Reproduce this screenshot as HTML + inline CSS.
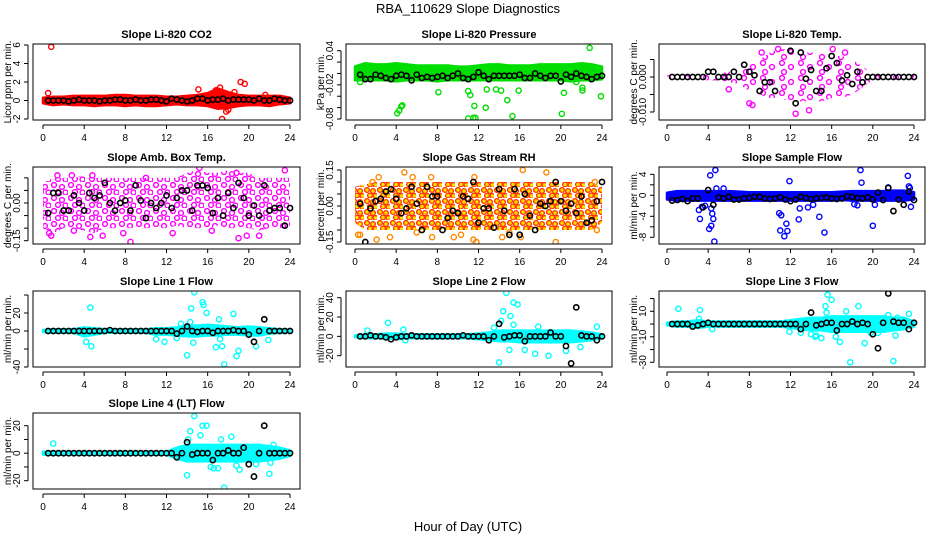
<!DOCTYPE html>
<html><head><meta charset="utf-8"><style>
html,body{margin:0;padding:0;background:#fff;}
svg{display:block;font-family:"Liberation Sans",sans-serif;}
</style></head><body>
<svg id="chart" width="936" height="540" viewBox="0 0 936 540">
<defs>
<pattern id="pat-mag" width="17" height="13" patternUnits="userSpaceOnUse">
<circle cx="3" cy="3" r="2.4" fill="none" stroke="#ff00ff" stroke-width="1.4"/>
<circle cx="11" cy="5" r="2.4" fill="none" stroke="#ff00ff" stroke-width="1.4"/>
<circle cx="7" cy="10" r="2.4" fill="none" stroke="#ff00ff" stroke-width="1.4"/>
<circle cx="14.5" cy="10.5" r="2.4" fill="none" stroke="#ff00ff" stroke-width="1.4"/>
</pattern>
<pattern id="pat-mag2" width="19" height="15" patternUnits="userSpaceOnUse">
<circle cx="3" cy="3" r="2.4" fill="none" stroke="#ff00ff" stroke-width="1.4"/>
<circle cx="12" cy="7" r="2.4" fill="none" stroke="#ff00ff" stroke-width="1.4"/>
<circle cx="5" cy="12" r="2.4" fill="none" stroke="#ff00ff" stroke-width="1.4"/>
</pattern>
<pattern id="pat-rh" width="13" height="11" patternUnits="userSpaceOnUse">
<circle cx="3" cy="3" r="2.4" fill="#ffdd00" stroke="#ff3300" stroke-width="1.3"/>
<circle cx="9" cy="4" r="2.4" fill="#ffdd00" stroke="#ff3300" stroke-width="1.3"/>
<circle cx="6" cy="8.5" r="2.4" fill="#ffdd00" stroke="#ff3300" stroke-width="1.3"/>
<circle cx="11.5" cy="9" r="2.4" fill="#ffdd00" stroke="#ff3300" stroke-width="1.3"/>
</pattern>
</defs>
<text x="468" y="13" text-anchor="middle" font-size="13">RBA_110629  Slope Diagnostics</text>
<text x="468" y="531" text-anchor="middle" font-size="13">Hour of Day (UTC)</text>
</svg>
<script>
const bandHours=[0,1,2,3,4,5,6,7,8,9,10,11,12,13,14,15,16,17,18,19,20,21,22,23,24];
const meanHours=[0.5,1,1.5,2,2.5,3,3.5,4,4.5,5,5.5,6,6.5,7,7.5,8,8.5,9,9.5,10,10.5,11,11.5,12,12.5,13,13.5,14,14.5,15,15.5,16,16.5,17,17.5,18,18.5,19,19.5,20,20.5,21,21.5,22,22.5,23,23.5,24];
const xTicks=[0,4,8,12,16,20,24];

const co2Lo=[-0.3,-0.5,-0.4,-0.5,-0.5,-0.6,-0.5,-0.5,-0.6,-0.5,-0.6,-0.6,-0.5,-0.4,-0.5,-0.5,-0.6,-0.9,-0.8,-0.6,-0.5,-0.5,-0.6,-0.4,-0.3];
const co2Hi=[0.3,0.4,0.4,0.5,0.5,0.5,0.5,0.6,0.6,0.5,0.5,0.5,0.4,0.4,0.5,0.6,0.8,1.3,0.9,0.6,0.5,0.5,0.5,0.5,0.3];
const co2Out=[[0.8,5.8],[0.5,0.8],[15.1,1.2],[19.2,2],[19.6,1.8],[17.4,-2],[17.8,-1.2],[18,-1],[21.6,0.6],[16.8,1.1],[17.2,1.4],[18.6,0.9]];
const co2Mean=[0,0,0,0,-0.1,0,0.1,0,0,0,-0.1,0,0,0.1,0.1,0,0,0.1,0,0,0.1,0.1,0,-0.1,0.2,0.1,0,-0.1,0,0.2,0.2,0,0.1,0.1,0.2,0,0.1,0.1,0.1,0.1,0,0.2,0,0,0.2,0.1,0,0];

const presLo=[-0.012,-0.012,-0.012,-0.012,-0.014,-0.012,-0.012,-0.012,-0.014,-0.012,-0.012,-0.012,-0.012,-0.012,-0.012,-0.012,-0.012,-0.012,-0.012,-0.012,-0.012,-0.014,-0.012,-0.012,-0.01];
const presHi=[0.012,0.018,0.016,0.016,0.018,0.016,0.014,0.014,0.014,0.014,0.012,0.012,0.014,0.016,0.016,0.014,0.014,0.014,0.016,0.016,0.016,0.016,0.018,0.016,0.012];
const presOut=[[4.1,-0.07],[4.3,-0.065],[4.5,-0.058],[4.6,-0.056],[8.1,-0.033],[11,-0.031],[11.2,-0.038],[11.6,-0.057],[11,-0.079],[11.5,-0.078],[11.7,-0.078],[12.7,-0.06],[12.8,-0.028],[13.7,-0.028],[14.2,-0.03],[14.8,-0.047],[15.3,-0.075],[15.9,-0.03],[20.1,-0.071],[20.3,-0.034],[22.1,-0.03],[22.1,-0.025],[23.9,-0.04],[22.8,0.045],[0.5,-0.015],[21.5,-0.015]];
const presMean=[-0.002,-0.01,-0.01,-0.002,-0.004,-0.008,-0.01,-0.004,-0.002,-0.004,-0.012,-0.002,-0.008,-0.006,-0.008,-0.006,-0.004,-0.008,-0.004,0.0,-0.008,-0.01,-0.006,0.002,-0.004,-0.01,-0.004,-0.004,-0.004,-0.004,-0.004,-0.002,-0.008,-0.008,0,-0.004,-0.008,-0.004,-0.004,-0.014,-0.002,-0.006,0,-0.004,-0.006,-0.01,-0.006,-0.004];

const tempLo=[-0.0005,-0.0005,-0.0005,-0.0005,-0.001,-0.001,-0.0015,-0.002,-0.004,-0.005,-0.006,-0.006,-0.007,-0.007,-0.007,-0.007,-0.006,-0.006,-0.005,-0.003,-0.0008,-0.0005,-0.0005,-0.0005,-0.0005];
const tempHi=[0.0005,0.0005,0.0005,0.0005,0.0008,0.001,0.0015,0.002,0.004,0.005,0.007,0.008,0.008,0.007,0.007,0.007,0.006,0.006,0.005,0.003,0.0008,0.0005,0.0005,0.0005,0.0005];
const tempOut=[[8.0,-0.0075],[8.3,-0.008],[12.5,-0.0105],[13.8,-0.0095],[15.6,-0.0135],[10.8,0.008],[9.2,0.007],[16.1,0.008],[17.3,0.007],[6.0,-0.0035]];
const tempMean=[0,0,0,0,0,0,0,0.0015,0.0015,0,0,0,0.0015,0,0.0035,0.0015,0.0005,-0.004,-0.0015,-0.0015,-0.004,-0.0135,-0.0135,0.0075,-0.0075,0.007,-0.0005,0.002,-0.004,-0.004,0.0025,0.006,0.004,-0.001,0.0005,-0.002,0.0015,-0.0015,0,0,0,0,0,0,0,0,0,0];

const ambLo=[-0.1,-0.12,-0.1,-0.1,-0.11,-0.12,-0.1,-0.1,-0.1,-0.1,-0.1,-0.1,-0.1,-0.09,-0.1,-0.1,-0.1,-0.09,-0.1,-0.1,-0.1,-0.11,-0.1,-0.1,-0.1];
const ambHi=[0.08,0.1,0.1,0.1,0.11,0.1,0.1,0.1,0.1,0.1,0.1,0.1,0.1,0.1,0.12,0.13,0.12,0.12,0.13,0.12,0.12,0.1,0.1,0.1,0.1];
const ambOut=[[0.6,-0.12],[0.8,-0.13],[3,-0.11],[4.6,-0.135],[5.8,-0.13],[7.8,-0.12],[8.5,-0.155],[15.2,0.14],[16.4,-0.11],[18.8,0.12],[19,-0.14],[19.8,-0.13],[20.4,0.16],[21,-0.13],[1.4,0.11],[2.8,0.11],[4.8,0.11],[10,0.1],[12.6,-0.12],[23.5,0.13]];
const ambMean=[-0.04,0.04,0.04,-0.03,-0.03,0.03,0.0,-0.03,0.04,0.02,0.03,0.08,0,-0.03,0.0,0.01,-0.03,0.07,0.01,-0.06,0.0,-0.02,0.0,0.03,-0.02,0.02,0.05,0.05,-0.03,0.07,0.07,0.06,-0.04,0.02,-0.05,0.04,-0.02,0.08,0.02,-0.05,-0.01,-0.05,0.07,-0.03,-0.02,-0.02,-0.09,-0.02];

const rhLo=[-0.07,-0.1,-0.1,-0.1,-0.1,-0.1,-0.1,-0.1,-0.1,-0.1,-0.1,-0.1,-0.1,-0.1,-0.1,-0.1,-0.1,-0.1,-0.1,-0.1,-0.1,-0.1,-0.1,-0.1,-0.07];
const rhHi=[0.08,0.09,0.1,0.1,0.1,0.1,0.1,0.1,0.1,0.1,0.1,0.1,0.1,0.1,0.1,0.1,0.1,0.1,0.1,0.1,0.1,0.1,0.1,0.1,0.08];
const rhOut=[[0.3,-0.12],[0.5,-0.12],[1.7,0.1],[2.3,0.12],[2.1,-0.14],[3.4,-0.13],[4.8,0.14],[5.6,0.12],[6,-0.11],[7.4,0.12],[7.5,-0.13],[9.6,-0.13],[10.3,-0.12],[11.5,-0.14],[11.8,-0.15],[11.6,0.12],[14.3,-0.13],[15,-0.11],[16.3,0.15],[16.1,-0.13],[18.6,0.14],[19.5,-0.15],[23.3,0.1],[23.5,-0.1]];
const rhMean=[0.01,-0.15,-0.01,0.02,0.03,0.06,0.07,0.03,-0.03,-0.01,0.08,0.01,-0.1,0.08,0.04,0.04,-0.1,-0.05,-0.02,-0.03,0.04,0.03,0.1,-0.07,-0.01,-0.01,-0.09,0.07,-0.02,-0.12,0.07,-0.12,0.05,-0.04,-0.1,0.01,0,0.02,0.1,0.02,-0.02,0.01,-0.03,0.04,-0.07,-0.06,0.02,0.1];

const sfLo=[-0.8,-1,-1,-1,-1,-1,-1,-1,-1,-1,-1,-1,-1,-1,-1,-1,-1,-0.9,-1,-1,-1,-1,-1,-1,-0.8];
const sfHi=[0.5,0.8,0.8,0.8,0.8,0.8,0.8,0.7,0.6,0.6,0.6,0.6,0.6,0.6,0.6,0.6,0.6,0.7,0.8,0.8,0.8,0.8,0.9,0.9,0.6];
const sfOut=[[3.1,-2.8],[3.2,-4.5],[3.4,-2.2],[3.7,-2],[4.2,3.8],[4.1,-6.4],[4.3,-5.8],[4.3,-2.5],[4.4,-3.5],[4.5,-4.5],[4.6,-8.8],[4.7,4.8],[4.8,1.3],[5.5,1.3],[10.9,-3.4],[11.1,-3.8],[11,-6.7],[11.4,-7.8],[11.6,-5.4],[11.7,-6.8],[11.9,2.7],[12.8,-4.6],[12.9,-2.5],[13.7,-2.3],[14.2,-1.8],[14.8,-4.1],[15.3,-7.1],[18.2,-1.7],[18.5,-1.9],[18.8,4.8],[18.9,2.4],[20,-5.8],[20.2,-1.8],[21.5,1.5],[23.4,3.7],[23.5,1.7],[23.7,-2.2],[23.6,1.4]];
const sfMean=[-1,-0.9,-0.7,-1.1,-0.6,-0.6,-2.3,1,-1.8,-0.4,-0.6,-0.3,-0.8,-0.8,-0.6,-0.5,-0.3,-0.3,-0.6,-0.7,-0.6,-0.4,-0.8,-1.1,-0.8,-0.3,-0.5,-0.7,-0.6,-0.5,-0.4,-0.6,-0.7,-0.6,-0.2,-0.3,-0.5,-0.6,-0.4,-0.8,0.5,-0.9,1.4,-3,-0.8,-1.8,0.7,-0.9];

const l1Lo=[-1,-2,-2,-2,-6,-4,-2,-2,-2,-2,-2,-4,-4,-5,-6,-6,-5,-5,-4,-4,-5,-5,-3,-2,-1];
const l1Hi=[1,2,2,2,4,3,2,2,2,2,2,3,3,4,6,6,7,6,5,4,5,4,3,2,1];
const l1Out=[[4.6,26],[4.2,-12],[4.7,-17],[11.8,-12],[13.4,8],[14,-27],[14.3,10],[14.4,25],[14.6,-13],[14.7,43],[15.5,32],[15.6,29],[15.9,20],[16.8,-18],[17.2,-9],[17.1,13],[17.4,-17],[17.6,-37],[18.5,19],[18.8,-28],[19,-22],[20.7,-17],[21.9,-10],[13,-8],[11,-9]];
const l1Mean=[0,0,0,0,0,0,0,0,0,0,0,0,1,0,0,0,0,0,0,0,0,0,0,0,0,-3,0,5,0,-1,0,0,-2,0,0,0,1,0,0,-4,-12,0,13,0,0,0,0,0];

const l2Lo=[-1,-2,-2,-2,-3,-2,-2,-2,-2,-2,-2,-2,-3,-4,-5,-5,-6,-6,-6,-6,-6,-6,-5,-4,-2];
const l2Hi=[1,2,2,3,3,2,2,2,2,2,2,2,3,4,6,6,6,6,6,6,6,6,5,4,2];
const l2Out=[[1.2,6],[3.2,14],[4.7,7],[4.9,-4],[14,-27],[14.2,16],[14.4,26],[14.7,45],[15.1,21],[15.4,12],[15.4,35],[15.8,33],[15,-14],[16.5,-14],[17.5,-18],[17.8,10],[18.8,-20],[20.5,-15],[21.9,-11],[23.5,10],[13.5,9]];
const l2Mean=[0,0,1,0,0,-1,-3,-1,0,0,1,0,0,0,0,0,0,0,0,0,1,0,0,0,0,-4,0,13,-1,0,1,1,-5,0,0,0,0,4,0,0,-10,-28,30,1,0,0,-4,0];

const l3Lo=[-1,-2,-2,-3,-2,-2,-2,-2,-2,-2,-2,-2,-3,-4,-5,-5,-6,-6,-6,-6,-6,-6,-5,-4,-2];
const l3Hi=[1,2,2,3,2,2,2,2,2,2,2,2,3,4,5,5,6,6,6,6,6,6,5,5,2];
const l3Out=[[1.1,12],[3.2,11],[3.1,4],[4.4,-4],[11.9,-6],[13,-7],[14,-8],[14.4,-10],[14.5,-9],[15,-11],[15.4,14],[15.5,9],[15.6,23],[16,19],[16.4,-10],[16.8,-14],[17.4,10],[17.8,-30],[18.6,14],[19.2,-15],[19.8,-7],[20.5,-7],[21.5,7],[22,-29],[22.2,-9],[22.4,5],[23.5,8]];
const l3Mean=[0,0,0,0,-2,-1,0,1,0,0,0,0,0,0,0,0,0,0,0,0,0,0,0,0,0,-4,0,9,-1,0,1,1,-5,0,0,2,0,1,0,-8,-19,1,24,2,1,1,-4,1];

const l4Lo=[-1,-1,-1,-1,-1,-1,-1,-1,-1,-1,-1,-1,-1,-4,-6,-6,-6,-6,-6,-6,-6,-6,-5,-4,-2];
const l4Hi=[1,1,1,1,1,1,1,1,1,1,1,1,1,4,6,6,6,6,6,6,6,6,5,4,2];
const l4Out=[[1,7],[14,-16],[14.1,10],[14.3,16],[15.3,13],[15.5,20],[15.9,20],[14.7,27],[16.3,-10],[16.6,-11],[17,-11],[17.3,10],[17.6,-25],[18.3,12],[18.8,-9],[19.1,-12],[20.7,-8],[22,-15],[22.1,-7],[22.4,6]];
const l4Mean=[0,0,0,0,0,0,0,0,0,0,0,0,0,0,0,0,0,0,0,0,0,0,0,0,0,-3,0,8,-1,0,0,0,-5,0,0,2,0,0,4,-8,-17,0,20,0,0,0,0,0];

const svg=document.getElementById('chart');
const NS='http://www.w3.org/2000/svg';
function mk(tag,attrs,parent){const e=document.createElementNS(NS,tag);for(const k in attrs)e.setAttribute(k,attrs[k]);(parent||svg).appendChild(e);return e;}

const cols=[{l:33,r:300,x0:43,x24:290},{l:346,r:612,x0:355,x24:602},{l:659,r:925,x0:667,x24:914}];
const rows=[{t:44,b:120},{t:167,b:244},{t:291,b:367},{t:413,b:489}];

const panels=[
 {name:'co2',title:'Slope Li-820 CO2',ylab:'Licor ppm per min.',c:0,r:0,v1:6,p1:45,v2:-2,p2:119,ticks:[-2,0,2,4,6],labels:['-2','0','2','4','6'],color:'#ff0000',fill:'#ff0000',sw:2.5,lo:co2Lo,hi:co2Hi,out:co2Out,mean:co2Mean},
 {name:'pressure',title:'Slope Li-820 Pressure',ylab:'kPa per min.',c:1,r:0,v1:0.04,p1:50.7,v2:-0.08,p2:119,ticks:[-0.08,-0.06,-0.04,-0.02,0,0.02,0.04],labels:['-0.08','','','-0.02','','','0.04'],color:'#00dd00',fill:'#00dd00',sw:2.5,lo:presLo,hi:presHi,out:presOut,mean:presMean},
 {name:'temp',title:'Slope Li-820 Temp.',ylab:'degrees C per min.',c:2,r:0,v1:0,p1:77,v2:-0.01,p2:112,ticks:[-0.01,-0.005,0,0.005],labels:['-0.010','','0.000',''],color:'#ff00ff',fill:'url(#pat-mag2)',sw:0,lo:tempLo,hi:tempHi,out:tempOut,mean:tempMean},
 {name:'amb-box-temp',title:'Slope Amb. Box Temp.',ylab:'degrees C per min.',c:0,r:1,v1:0,p1:203,v2:-0.15,p2:240.7,ticks:[-0.15,-0.1,-0.05,0,0.05,0.1],labels:['-0.15','','','0.00','',''],color:'#ff00ff',fill:'url(#pat-mag)',sw:0,lo:ambLo,hi:ambHi,out:ambOut,mean:ambMean},
 {name:'gas-rh',title:'Slope Gas Stream RH',ylab:'percent per min.',c:1,r:1,v1:0.15,p1:170,v2:-0.15,p2:242,ticks:[-0.15,-0.1,-0.05,0,0.05,0.1,0.15],labels:['-0.15','','','0.00','','','0.15'],color:'#ff8800',fill:'url(#pat-rh)',sw:0,lo:rhLo,hi:rhHi,out:rhOut,mean:rhMean},
 {name:'sample-flow',title:'Slope Sample Flow',ylab:'ml/min per min.',c:2,r:1,v1:4,p1:174.3,v2:-8,p2:237.3,ticks:[-8,-6,-4,-2,0,2,4],labels:['-8','','-4','','0','','4'],color:'#0000ff',fill:'#0000ff',sw:2.5,lo:sfLo,hi:sfHi,out:sfOut,mean:sfMean},
 {name:'line1-flow',title:'Slope Line 1 Flow',ylab:'ml/min per min.',c:0,r:2,v1:20,p1:313,v2:-40,p2:367,ticks:[-40,-20,0,20,40],labels:['-40','','0','20',''],color:'#00ffff',fill:'#00ffff',sw:2.5,lo:l1Lo,hi:l1Hi,out:l1Out,mean:l1Mean},
 {name:'line2-flow',title:'Slope Line 2 Flow',ylab:'ml/min per min.',c:1,r:2,v1:40,p1:297.7,v2:-20,p2:355.7,ticks:[-20,0,20,40],labels:['-20','0','20','40'],color:'#00ffff',fill:'#00ffff',sw:2.5,lo:l2Lo,hi:l2Hi,out:l2Out,mean:l2Mean},
 {name:'line3-flow',title:'Slope Line 3 Flow',ylab:'ml/min per min.',c:2,r:2,v1:10,p1:311.3,v2:-30,p2:362.3,ticks:[-30,-20,-10,0,10,20],labels:['-30','','-10','','10',''],color:'#00ffff',fill:'#00ffff',sw:2.5,lo:l3Lo,hi:l3Hi,out:l3Out,mean:l3Mean},
 {name:'line4-flow',title:'Slope Line 4 (LT) Flow',ylab:'ml/min per min.',c:0,r:3,v1:20,p1:425.7,v2:-20,p2:480.7,ticks:[-20,-10,0,10,20],labels:['-20','','0','','20'],color:'#00ffff',fill:'#00ffff',sw:2.5,lo:l4Lo,hi:l4Hi,out:l4Out,mean:l4Mean}
];

panels.forEach(p=>{
  const C=cols[p.c],R=rows[p.r];
  const g=mk('g',{});
  
  
  const xs=h=>C.x0+(C.x24-C.x0)*h/24;
  const ys=v=>p.p1+(v-p.v1)*(p.p2-p.p1)/(p.v2-p.v1);
  const clip=mk('clipPath',{id:'clip-'+p.name},g);
  mk('rect',{x:C.l,y:R.t,width:C.r-C.l,height:R.b-R.t},clip);
  const pg=mk('g',{'clip-path':'url(#clip-'+p.name+')'},g);
  let pts=[];
  bandHours.forEach((h,i)=>pts.push(xs(h).toFixed(1)+','+ys(p.hi[i]).toFixed(1)));
  for(let i=bandHours.length-1;i>=0;i--)pts.push(xs(bandHours[i]).toFixed(1)+','+ys(p.lo[i]).toFixed(1));
  const band=mk('polygon',{points:pts.join(' '),fill:p.fill,stroke:p.sw?p.color:'none','stroke-width':p.sw,'stroke-linejoin':'round'},pg);
  
  
  p.out.forEach(o=>{
    const c=mk('circle',{cx:xs(o[0]),cy:ys(o[1]),r:2.6,fill:'none',stroke:p.color,'stroke-width':1.4},pg);
    
    
  });
  p.mean.forEach((v,i)=>{
    const c=mk('circle',{cx:xs(meanHours[i]),cy:ys(v),r:2.6,fill:'none',stroke:'#000','stroke-width':1.6},pg);
    
    
  });
  const box=mk('rect',{x:C.l,y:R.t,width:C.r-C.l,height:R.b-R.t,fill:'none',stroke:'#000','stroke-width':1},g);
  
  
  const t=mk('text',{x:(C.l+C.r)/2,y:R.t-6,'text-anchor':'middle','font-size':11,'font-weight':'bold'},g);
  t.textContent=p.title;
  
  
  const xa=R.b+5;
  mk('line',{x1:C.x0,x2:C.x24,y1:xa,y2:xa,stroke:'#000'},g);
  xTicks.forEach(h=>{
    mk('line',{x1:xs(h),x2:xs(h),y1:xa,y2:xa+4,stroke:'#000'},g);
    const tl=mk('text',{x:xs(h),y:xa+16,'text-anchor':'middle','font-size':10},g);
    tl.textContent=h;
    
    
  });
  const ya=C.l-5;
  const yt=p.ticks.map(ys);
  mk('line',{x1:ya,x2:ya,y1:Math.min(...yt),y2:Math.max(...yt),stroke:'#000'},g);
  p.ticks.forEach((v,i)=>{
    mk('line',{x1:ya-4,x2:ya,y1:ys(v),y2:ys(v),stroke:'#000'},g);
    if(p.labels[i]){
      const yl=mk('text',{x:0,y:0,'text-anchor':'middle','font-size':10,transform:'translate('+(ya-8)+','+ys(v)+') rotate(-90)'},g);
      yl.textContent=p.labels[i];
      
      
    }
  });
  const ylab=mk('text',{x:0,y:0,'text-anchor':'middle','font-size':10,transform:'translate('+(C.l-22)+','+((R.t+R.b)/2)+') rotate(-90)'},g);
  ylab.textContent=p.ylab;
  
  
});
</script>
</body></html>
